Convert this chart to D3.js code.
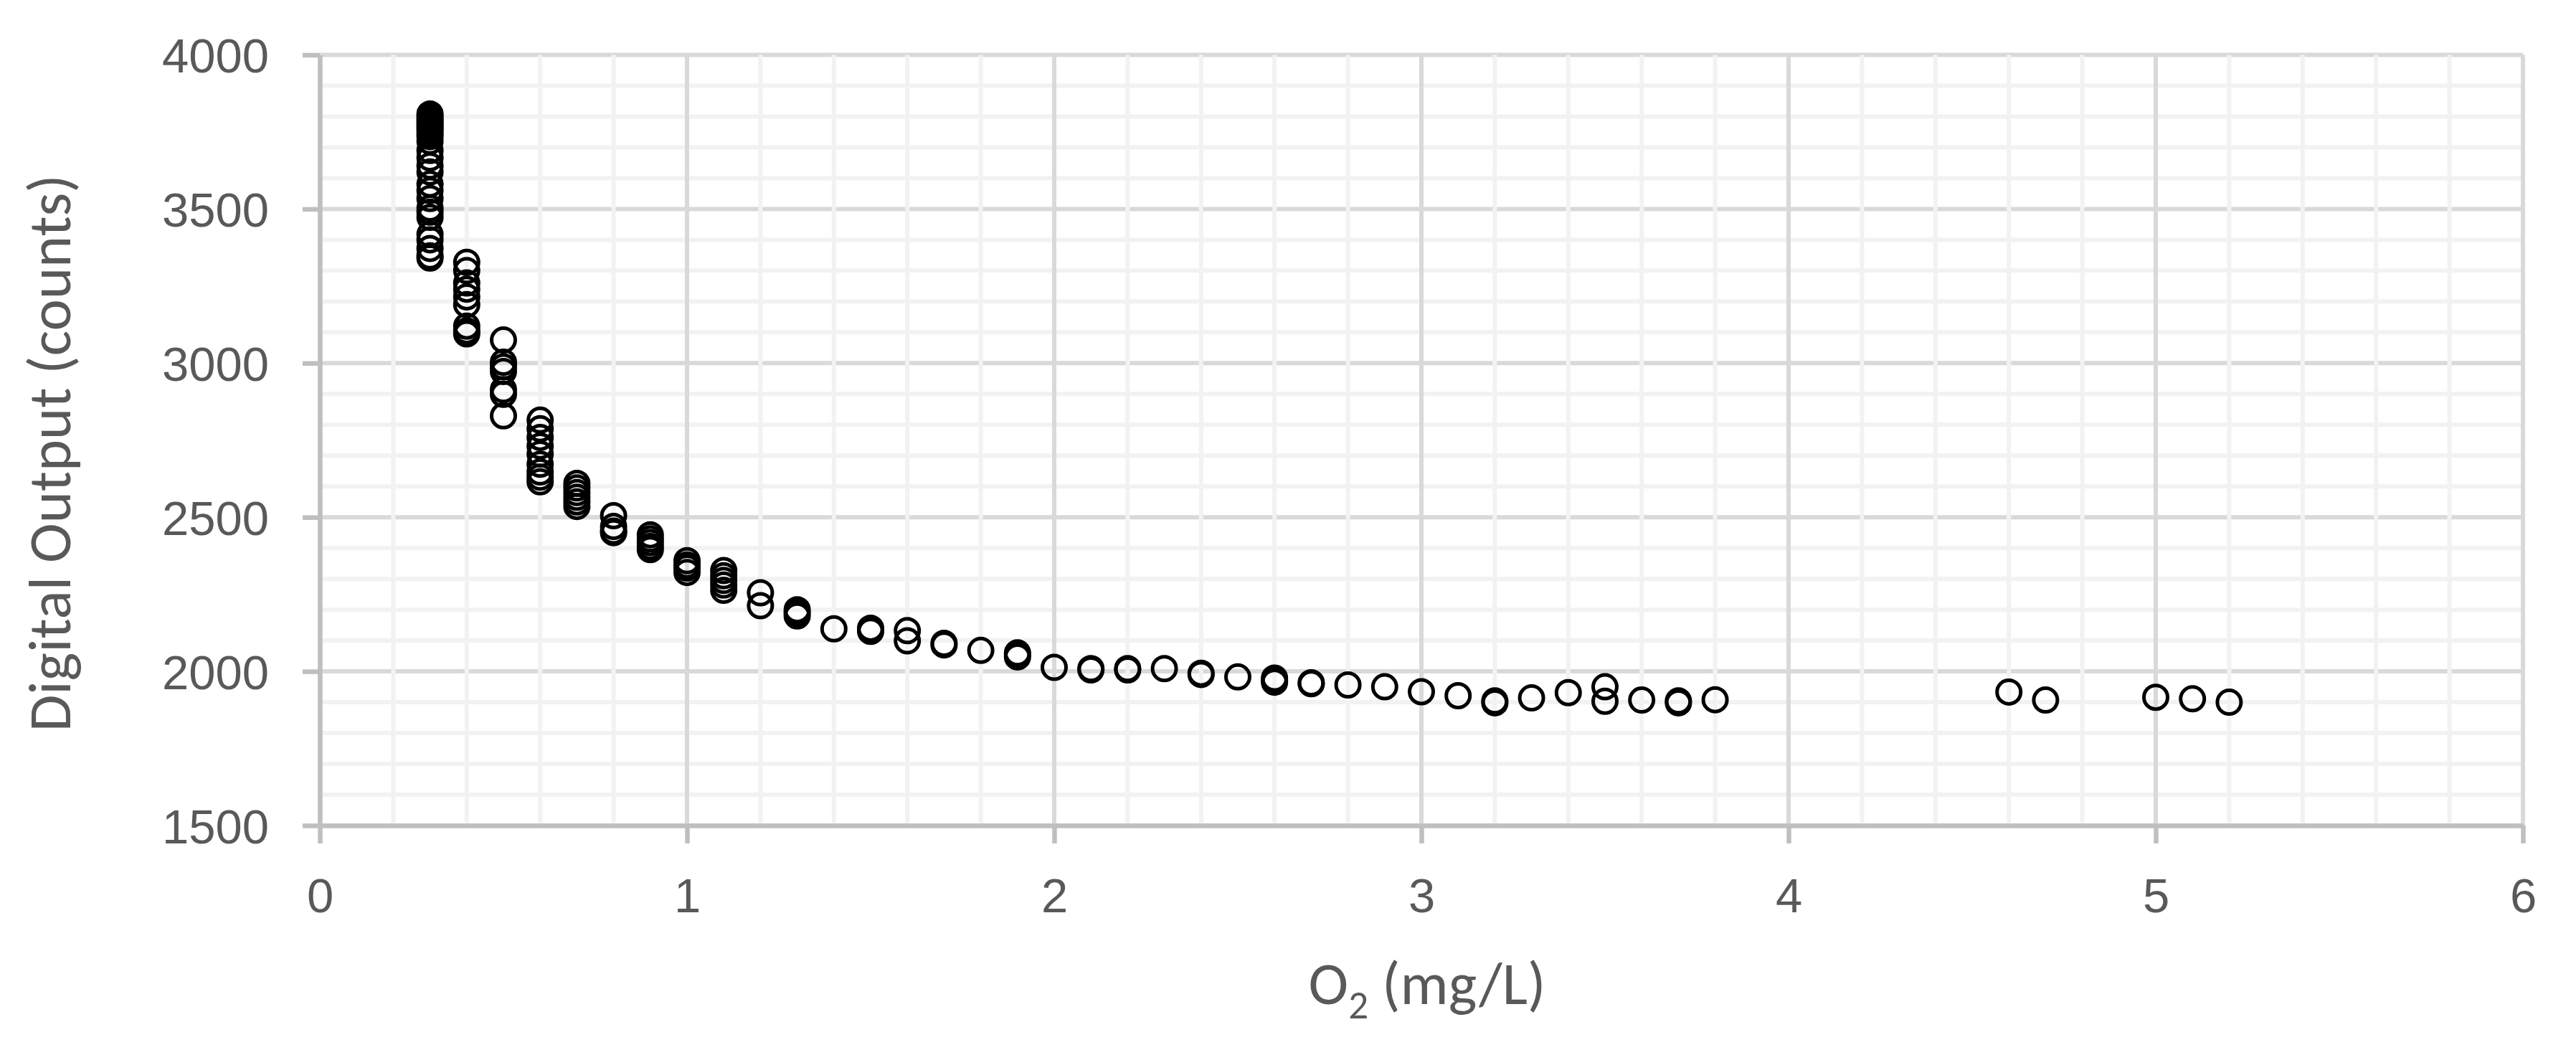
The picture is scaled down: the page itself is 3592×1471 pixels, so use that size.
<!DOCTYPE html>
<html>

<head>
    <meta charset="utf-8">
    <style>
        body {
            margin: 0;
            background: #fff;
        }

        svg {
            display: block;
            font-family: Carlito, Calibri, Lato, sans-serif;
        }

        .tick text {
            font-size: 67px;
            fill: #595959;
        }

        .axis .domain,
        .axis .tick line {
            stroke: #bfbfbf;
            stroke-width: 6.5;
        }

        .axis-title {
            font-size: 84px;
            fill: #595959;
        }

        .dot {
            fill: none;
            stroke: #000;
            stroke-width: 5;
        }
    </style>
</head>

<body>
    <svg width="3592" height="1471"></svg>

    <script src="https://d3js.org/d3.v7.min.js"></script>

    <script>
        // O2 levels (mg/L) and the sensor readings taken at each level
        const o2Levels = [0.3, 0.4, 0.5, 0.6, 0.7, 0.8, 0.9, 1.0, 1.1, 1.2, 1.3, 1.4, 1.5, 1.6, 1.7, 1.8, 1.9,
            2.0, 2.1, 2.2, 2.3, 2.4, 2.5, 2.6, 2.7, 2.8, 2.9, 3.0, 3.1, 3.2, 3.3, 3.4, 3.5, 3.6, 3.7, 3.8,
            4.6, 4.7, 5.0, 5.1, 5.2];

        const countReadings = [
            [3808, 3800, 3792, 3785, 3778, 3770, 3762, 3755, 3745, 3735, 3720, 3690, 3666, 3640, 3620, 3581,
                3560, 3534, 3503, 3490, 3473, 3418, 3400, 3372, 3348, 3341],   // 0.3
            [3327, 3300, 3260, 3240, 3215, 3190, 3120, 3105, 3095],   // 0.4
            [3075, 3003, 2988, 2973, 2914, 2899, 2829],               // 0.5
            [2815, 2787, 2759, 2731, 2705, 2672, 2647, 2630, 2615],   // 0.6
            [2610, 2595, 2580, 2565, 2550, 2535],                     // 0.7
            [2505, 2470, 2455, 2450],                                 // 0.8
            [2443, 2430, 2418, 2405, 2395],                           // 0.9
            [2359, 2345, 2335, 2321],                                 // 1.0
            [2327, 2310, 2295, 2280, 2263],                           // 1.1
            [2255, 2213],                                             // 1.2
            [2200, 2190, 2180],                                       // 1.3
            [2138],                                                   // 1.4
            [2140, 2135, 2130],                                       // 1.5
            [2132, 2099],                                             // 1.6
            [2091, 2086],                                             // 1.7
            [2068],                                                   // 1.8
            [2060, 2053, 2047],                                       // 1.9
            [2013],                                                   // 2.0
            [2009, 2005],                                             // 2.1
            [2009, 2005],                                             // 2.2
            [2009],                                                   // 2.3
            [1994, 1990],                                             // 2.4
            [1982],                                                   // 2.5
            [1978, 1970, 1965],                                       // 2.6
            [1963, 1960],                                             // 2.7
            [1956],                                                   // 2.8
            [1950],                                                   // 2.9
            [1934],                                                   // 3.0
            [1921],                                                   // 3.1
            [1904, 1898],                                             // 3.2
            [1914],                                                   // 3.3
            [1931],                                                   // 3.4
            [1950, 1903],                                             // 3.5
            [1907],                                                   // 3.6
            [1904, 1898],                                             // 3.7
            [1908],                                                   // 3.8
            [1933],                                                   // 4.6
            [1907],                                                   // 4.7
            [1916],                                                   // 5.0
            [1911],                                                   // 5.1
            [1900]                                                    // 5.2
        ];

        const xTicks = [0, 1, 2, 3, 4, 5, 6];
        const yTicks = [1500, 2000, 2500, 3000, 3500, 4000];
        const xMinorTicks = d3.range(0, 6.001, 0.2);
        const yMinorTicks = d3.range(1500, 4001, 100);

        let margin = { top: 76.5, right: 74, bottom: 320, left: 446 };
        let width = 3592;
        let height = 1471;

        let svg = d3.select("svg");

        // flatten into points
        let points = [];
        o2Levels.forEach((lvl, i) => {
            countReadings[i].forEach(c => points.push({ o2: lvl, counts: c }));
        });

        let x = d3.scaleLinear()
            .domain([0, 6])
            .range([margin.left, width - margin.right]);

        let y = d3.scaleLinear()
            .domain([1500, 4000])
            .range([height - margin.bottom, margin.top]);

        let plotW = width - margin.right - margin.left;
        let plotH = height - margin.bottom - margin.top;

        // gridlines: horizontal first, then vertical on top (like Excel)
        let grid = svg.append("g").attr("class", "grid");

        grid.selectAll(".hminor")
            .data(yMinorTicks.filter(v => v % 500 != 0))
            .join("line")
            .attr("x1", x(0)).attr("x2", x(6))
            .attr("y1", d => y(d)).attr("y2", d => y(d))
            .attr("stroke", "#f2f2f2").attr("stroke-width", 6);

        grid.selectAll(".hmajor")
            .data(yTicks)
            .join("line")
            .attr("x1", x(0)).attr("x2", x(6))
            .attr("y1", d => y(d)).attr("y2", d => y(d))
            .attr("stroke", "#d9d9d9").attr("stroke-width", 6);

        grid.append("g").selectAll("line")
            .data(xMinorTicks.filter(v => Math.abs(v - Math.round(v)) > 0.01))
            .join("line")
            .attr("x1", d => x(d)).attr("x2", d => x(d))
            .attr("y1", y(1500)).attr("y2", y(4000))
            .attr("stroke", "#f2f2f2").attr("stroke-width", 6);

        grid.append("g").selectAll("line")
            .data(xTicks)
            .join("line")
            .attr("x1", d => x(d)).attr("x2", d => x(d))
            .attr("y1", y(1500)).attr("y2", y(4000))
            .attr("stroke", "#d9d9d9").attr("stroke-width", 6);

        // axes
        let xAxis = svg.append("g")
            .attr("class", "x axis")
            .attr("transform", `translate(0, ${y(1500)})`)
            .call(d3.axisBottom(x)
                .tickValues(xTicks)
                .tickSize(25)
                .tickSizeOuter(0)
                .tickFormat(d3.format("d")))
            .call(g => g.selectAll(".tick text")
                .attr("y", 121)
                .attr("dy", null));

        let yAxis = svg.append("g")
            .attr("class", "y axis")
            .attr("transform", `translate(${x(0)}, 0)`)
            .call(d3.axisLeft(y)
                .tickValues(yTicks)
                .tickSize(24)
                .tickSizeOuter(0)
                .tickPadding(47)
                .tickFormat(d3.format("d")))
            .call(g => g.selectAll(".tick text")
                .attr("dy", "0.36em"));

        // markers
        svg.append("g")
            .attr("class", "dots")
            .selectAll("circle")
            .data(points)
            .join("circle")
            .attr("class", "dot")
            .attr("cx", d => x(d.o2))
            .attr("cy", d => y(d.counts))
            .attr("r", 16.5);

        // axis titles
        let xt = svg.append("text")
            .attr("class", "axis-title")
            .attr("x", margin.left + plotW / 2 + 8)
            .attr("y", 1400)
            .attr("text-anchor", "middle");
        xt.append("tspan").text("O");
        xt.append("tspan").attr("dy", 20).style("font-size", "55px").text("2");
        xt.append("tspan").attr("dy", -20).text(" (mg/L)");

        svg.append("text")
            .attr("class", "axis-title")
            .attr("transform", `translate(98, ${margin.top + plotH / 2 + 18}) rotate(-90)`)
            .attr("text-anchor", "middle")
            .text("Digital Output (counts)");
    </script>
</body>

</html>
